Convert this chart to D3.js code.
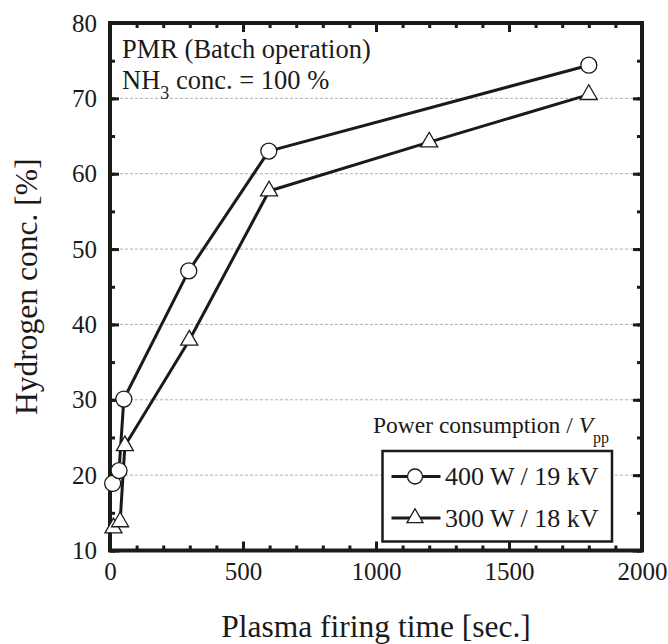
<!DOCTYPE html>
<html>
<head>
<meta charset="utf-8">
<script src="https://cdn.jsdelivr.net/npm/d3@7"></script>
<style>
  body { margin: 0; background: #fff; }
</style>
</head>
<body>
<svg id="chart" width="668" height="644"></svg>
<script>
// data
var timeCircle = [10, 34, 52, 296, 597, 1800];
var h2Circle = [18.9, 20.6, 30.1, 47.1, 63.0, 74.4];
var timeTri = [13, 38, 56, 298, 598, 1200, 1800];
var h2Tri = [13.0, 13.8, 23.9, 37.9, 57.7, 64.2, 70.5];
var seriesNames = ["400 W / 19 kV", "300 W / 18 kV"];
var gridValues = [20, 30, 40, 50, 60, 70];

var margin = { left: 110, top: 23 };
var width = 532;
var height = 527.5;
var ink = "#1a1a1a";
var serif = '"Liberation Serif", "Times New Roman", serif';

var svg = d3.select("#chart");
var g = svg.append("g").attr("transform", "translate(" + margin.left + "," + margin.top + ")");

var x = d3.scaleLinear().domain([0, 2000]).range([0, width]);
var y = d3.scaleLinear().domain([10, 80]).range([height, 0]);

// dashed horizontal grid
g.selectAll(".grid")
  .data(gridValues)
  .enter()
  .append("line")
  .attr("x1", 0)
  .attr("x2", width)
  .attr("y1", function (d) { return y(d); })
  .attr("y2", function (d) { return y(d); })
  .attr("stroke", "#b0b0b0")
  .attr("stroke-width", 1)
  .attr("stroke-dasharray", "3,2");

// ticks, all pointing inward
function styleAxis(sel) {
  sel.select(".domain").remove();
  sel.selectAll(".tick line").attr("stroke", ink).attr("stroke-width", 3);
  sel.selectAll(".tick text")
    .style("font-family", serif)
    .style("font-size", "25px")
    .attr("fill", ink);
}

var xMinor = d3.range(0, 2001, 100);
var yMinor = d3.range(10, 81, 5);

g.append("g").attr("transform", "translate(0," + height + ")")
  .call(d3.axisBottom(x).tickValues(xMinor).tickSize(-5).tickFormat(""))
  .call(styleAxis);
g.append("g").attr("transform", "translate(0," + height + ")")
  .call(d3.axisBottom(x).tickValues([0, 500, 1000, 1500, 2000]).tickSize(-9).tickPadding(12).tickFormat(d3.format("d")))
  .call(styleAxis);
g.append("g")
  .call(d3.axisTop(x).tickValues(xMinor).tickSize(-5).tickFormat(""))
  .call(styleAxis);
g.append("g")
  .call(d3.axisTop(x).tickValues([0, 500, 1000, 1500, 2000]).tickSize(-9).tickFormat(""))
  .call(styleAxis);

g.append("g")
  .call(d3.axisLeft(y).tickValues(yMinor).tickSize(-5).tickFormat(""))
  .call(styleAxis);
g.append("g")
  .call(d3.axisLeft(y).tickValues(d3.range(10, 81, 10)).tickSize(-9).tickPadding(13).tickFormat(d3.format("d")))
  .call(styleAxis);
g.append("g").attr("transform", "translate(" + width + ",0)")
  .call(d3.axisRight(y).tickValues(yMinor).tickSize(-5).tickFormat(""))
  .call(styleAxis);
g.append("g").attr("transform", "translate(" + width + ",0)")
  .call(d3.axisRight(y).tickValues(d3.range(10, 81, 10)).tickSize(-9).tickFormat(""))
  .call(styleAxis);

// frame
g.append("rect")
  .attr("x", 0).attr("y", 0)
  .attr("width", width).attr("height", height)
  .attr("fill", "none")
  .attr("stroke", ink)
  .attr("stroke-width", 4);

// series
var circleData = timeCircle.map(function (t, i) { return { t: t, v: h2Circle[i] }; });
var triData = timeTri.map(function (t, i) { return { t: t, v: h2Tri[i] }; });

var line = d3.line()
  .x(function (d) { return x(d.t); })
  .y(function (d) { return y(d.v); });

[circleData, triData].forEach(function (data) {
  g.append("path")
    .datum(data)
    .attr("d", line)
    .attr("fill", "none")
    .attr("stroke", ink)
    .attr("stroke-width", 3)
    .attr("stroke-linejoin", "round");
});

function triPath(side) {
  var h = side * Math.sqrt(3) / 2;
  return "M0," + (-2 * h / 3) + "L" + (side / 2) + "," + (h / 3) + "L" + (-side / 2) + "," + (h / 3) + "Z";
}

g.selectAll(".tri")
  .data(triData)
  .enter()
  .append("path")
  .attr("d", triPath(17))
  .attr("transform", function (d) { return "translate(" + x(d.t) + "," + y(d.v) + ")"; })
  .attr("fill", "#fff")
  .attr("stroke", ink)
  .attr("stroke-width", 1.3);

g.selectAll(".circ")
  .data(circleData)
  .enter()
  .append("circle")
  .attr("cx", function (d) { return x(d.t); })
  .attr("cy", function (d) { return y(d.v); })
  .attr("r", 8)
  .attr("fill", "#fff")
  .attr("stroke", ink)
  .attr("stroke-width", 1.3);

// annotation
g.append("text")
  .attr("x", 12).attr("y", 34.5)
  .style("font-family", serif)
  .style("font-size", "26.5px")
  .attr("fill", ink)
  .text("PMR (Batch operation)");
var nh = g.append("text")
  .attr("x", 12).attr("y", 65.5)
  .style("font-family", serif)
  .style("font-size", "26.5px")
  .attr("fill", ink);
nh.append("tspan").text("NH");
nh.append("tspan").attr("dy", 10).style("font-size", "18px").text("3");
nh.append("tspan").attr("dy", -10).text(" conc. = 100 %");

// legend
var lg = g.append("g").attr("transform", "translate(263,410)");
var lt = lg.append("text").attr("x", 0).attr("y", 0)
  .style("font-family", serif)
  .style("font-size", "23.5px")
  .attr("fill", ink);
lt.append("tspan").text("Power consumption / ");
lt.append("tspan").style("font-style", "italic").text("V");
lt.append("tspan").attr("dy", 10).style("font-size", "16px").text("pp");

lg.append("rect")
  .attr("x", 9.5).attr("y", 18)
  .attr("width", 229.5).attr("height", 90.5)
  .attr("fill", "#fff")
  .attr("stroke", ink)
  .attr("stroke-width", 2.5);

seriesNames.forEach(function (name, i) {
  var cy = 43.5 + i * 41.5;
  lg.append("line")
    .attr("x1", 18.5).attr("x2", 67.5)
    .attr("y1", cy).attr("y2", cy)
    .attr("stroke", ink).attr("stroke-width", 3);
  if (i === 0) {
    lg.append("circle").attr("cx", 42).attr("cy", cy).attr("r", 7.5)
      .attr("fill", "#fff").attr("stroke", ink).attr("stroke-width", 1.3);
  } else {
    lg.append("path").attr("d", triPath(16))
      .attr("transform", "translate(42," + cy + ")")
      .attr("fill", "#fff").attr("stroke", ink).attr("stroke-width", 1.3);
  }
  lg.append("text")
    .attr("x", 72).attr("y", cy + 8.5)
    .style("font-family", serif)
    .style("font-size", "26px")
    .attr("fill", ink)
    .text(name);
});

// axis titles
svg.append("text")
  .attr("x", margin.left + width / 2)
  .attr("y", 637)
  .attr("text-anchor", "middle")
  .style("font-family", serif)
  .style("font-size", "31.5px")
  .attr("fill", ink)
  .text("Plasma firing time [sec.]");
svg.append("text")
  .attr("transform", "translate(37," + (margin.top + height / 2) + ") rotate(-90)")
  .attr("text-anchor", "middle")
  .style("font-family", serif)
  .style("font-size", "31.5px")
  .attr("fill", ink)
  .text("Hydrogen conc. [%]");
</script>
</body>
</html>
